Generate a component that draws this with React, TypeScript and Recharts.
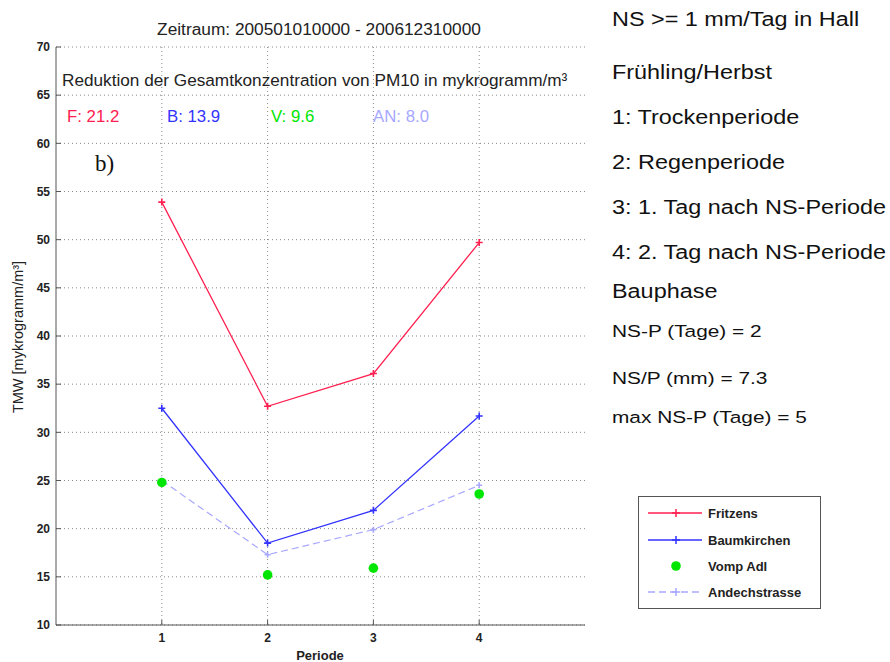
import React from 'react';
import { LineChart, Line, XAxis, YAxis, CartesianGrid } from 'recharts';

// ---- data ----
const periods = [1, 2, 3, 4];
const fritzens = [53.9, 32.7, 36.1, 49.7];
const baumkirchen = [32.5, 18.5, 21.9, 31.7];
const vompAdl = [24.8, 15.2, 15.9, 23.6];
const andechstrasse = [25.0, 17.3, 19.9, 24.5];

const seriesNames = ['Fritzens', 'Baumkirchen', 'Vomp Adl', 'Andechstrasse'];
const reductionLabels = ['F', 'B', 'V', 'AN'];
const reductionValues = [21.2, 13.9, 9.6, 8.0];

const xTicks = [1, 2, 3, 4];
const yTicks = [10, 15, 20, 25, 30, 35, 40, 45, 50, 55, 60, 65, 70];

const chartTitle = 'Zeitraum: 200501010000 - 200612310000';
const subTitle = 'Reduktion der Gesamtkonzentration von PM10 in mykrogramm/m³';
const yLabel = 'TMW [mykrogramm/m³]';
const xLabel = 'Periode';
const panelTag = 'b)';
const infoLines = [
  'NS >= 1 mm/Tag in Hall',
  'Frühling/Herbst',
  '1: Trockenperiode',
  '2: Regenperiode',
  '3: 1. Tag nach NS-Periode',
  '4: 2. Tag nach NS-Periode',
  'Bauphase',
];
const paramLines = ['NS-P (Tage) = 2', 'NS/P (mm) = 7.3', 'max NS-P (Tage) = 5'];

// ---- styles ----
const COLORS = ['#ff2050', '#3333ff', '#00e600', '#a8a8ff'];
const FONT = '"Liberation Sans", Arial, sans-serif';
const infoY = [20, 73, 118, 163, 208, 253, 292];
const paramY = [331, 378, 417];
const legendRowY = [513, 540, 566, 592];
const reductionX = [67, 167, 271, 373];

const data = periods.map((p, i) => ({
  p,
  fritzens: fritzens[i],
  baumkirchen: baumkirchen[i],
  vomp: vompAdl[i],
  andech: andechstrasse[i],
}));

const plusDot = (color: string, size = 3.5) => (props: any) => {
  const { cx, cy, index } = props;
  if (cx == null || cy == null) return <g key={index} />;
  return (
    <path
      key={index}
      d={`M${cx - size},${cy}h${size * 2}M${cx},${cy - size}v${size * 2}`}
      stroke={color}
      strokeWidth={1.6}
      fill="none"
    />
  );
};

const circleDot = (color: string) => (props: any) => {
  const { cx, cy, index } = props;
  if (cx == null || cy == null) return <g key={index} />;
  return <circle key={index} cx={cx} cy={cy} r={4.8} fill={color} stroke="none" />;
};

const abs = (extra: React.CSSProperties): React.CSSProperties => ({
  position: 'absolute',
  whiteSpace: 'nowrap',
  lineHeight: 1,
  fontFamily: FONT,
  ...extra,
});

export default function App() {
  const axisColor = '#555';
  const tickStyle = { fontSize: 12, fontWeight: 'bold' as const, fill: '#222', fontFamily: FONT };
  return (
    <div style={{ position: 'absolute', left: 0, top: 0, width: 890, height: 662, background: '#fff', overflow: 'hidden' }}>
      <LineChart
        width={890}
        height={662}
        data={data}
        margin={{ top: 47, right: 305, bottom: 17, left: 26 }}
      >
        <CartesianGrid
          stroke="#8a8a8a"
          strokeDasharray="1 3"
          verticalValues={xTicks}
          horizontalValues={yTicks}
        />
        <XAxis
          dataKey="p"
          type="number"
          domain={[0, 5]}
          ticks={xTicks}
          allowDataOverflow
          height={20}
          stroke={axisColor}
          tickSize={-5}
          tickMargin={13}
          tick={tickStyle}
        />
        <XAxis
          xAxisId="top"
          orientation="top"
          dataKey="p"
          type="number"
          domain={[0, 5]}
          ticks={xTicks}
          height={0}
          stroke={axisColor}
          tickSize={-5}
          tick={false}
        />
        <YAxis
          type="number"
          domain={[10, 70]}
          ticks={yTicks}
          allowDataOverflow
          width={30}
          stroke={axisColor}
          tickSize={-5}
          tickMargin={11}
          tick={tickStyle}
          interval={0}
        />
        <YAxis
          yAxisId="right"
          orientation="right"
          type="number"
          domain={[10, 70]}
          ticks={yTicks}
          width={0}
          stroke={axisColor}
          tickSize={-5}
          tick={false}
          interval={0}
        />
        <Line
          dataKey="andech"
          name={seriesNames[3]}
          stroke={COLORS[3]}
          strokeWidth={1.2}
          strokeDasharray="7 4"
          dot={plusDot(COLORS[3], 3)}
          isAnimationActive={false}
        />
        <Line
          dataKey="vomp"
          name={seriesNames[2]}
          stroke="none"
          dot={circleDot(COLORS[2])}
          isAnimationActive={false}
        />
        <Line
          dataKey="baumkirchen"
          name={seriesNames[1]}
          stroke={COLORS[1]}
          strokeWidth={1.3}
          dot={plusDot(COLORS[1])}
          isAnimationActive={false}
        />
        <Line
          dataKey="fritzens"
          name={seriesNames[0]}
          stroke={COLORS[0]}
          strokeWidth={1.3}
          dot={plusDot(COLORS[0])}
          isAnimationActive={false}
        />
      </LineChart>

      {/* title */}
      <div style={abs({ left: 319, top: 30, transform: 'translate(-50%,-50%)', fontSize: 17.3, color: '#222' })}>{chartTitle}</div>
      {/* sub title inside plot */}
      <div style={abs({ left: 62, top: 81, transform: 'translateY(-50%)', fontSize: 17.2, color: '#222' })}>{subTitle}</div>
      {reductionLabels.map((l, i) => (
        <div
          key={l}
          style={abs({ left: reductionX[i], top: 117, transform: 'translateY(-50%)', fontSize: 16.8, color: COLORS[i] })}
        >
          {`${l}: ${reductionValues[i].toFixed(1)}`}
        </div>
      ))}
      <div style={abs({ left: 95, top: 163, transform: 'translateY(-50%)', fontSize: 23, fontFamily: '"Liberation Serif", "DejaVu Serif", serif', color: '#111' })}>
        {panelTag}
      </div>

      {/* axis labels */}
      <div style={abs({ left: 18, top: 337, transform: 'translate(-50%,-50%) rotate(-90deg)', fontSize: 14.5, color: '#222' })}>{yLabel}</div>
      <div style={abs({ left: 320, top: 655, transform: 'translate(-50%,-50%)', fontSize: 13, fontWeight: 'bold', color: '#222' })}>{xLabel}</div>

      {/* right text */}
      {infoLines.map((t, i) => (
        <div
          key={t}
          style={abs({ left: 612, top: infoY[i], transform: 'translateY(-50%) scaleX(1.2)', transformOrigin: 'left center', fontSize: 19.5, color: '#111' })}
        >
          {t}
        </div>
      ))}
      {paramLines.map((t, i) => (
        <div
          key={t}
          style={abs({ left: 612, top: paramY[i], transform: 'translateY(-50%) scaleX(1.28)', transformOrigin: 'left center', fontSize: 16.3, color: '#111' })}
        >
          {t}
        </div>
      ))}

      {/* legend */}
      <div style={{ position: 'absolute', left: 638, top: 496, width: 181, height: 111, border: '1px solid #555', background: '#fff' }} />
      {seriesNames.map((n, i) => (
        <React.Fragment key={n}>
          <svg style={{ position: 'absolute', left: 646, top: legendRowY[i] - 8, overflow: 'visible' }} width={58} height={16}>
            {i !== 2 && (
              <line x1={2} x2={56} y1={8} y2={8} stroke={COLORS[i]} strokeWidth={1.3} strokeDasharray={i === 3 ? '7 4' : undefined} />
            )}
            {i === 2 ? (
              <circle cx={30} cy={8} r={4.8} fill={COLORS[2]} />
            ) : (
              <path d={`M26,8h8M30,4v8`} stroke={COLORS[i]} strokeWidth={1.5} />
            )}
          </svg>
          <div style={abs({ left: 708, top: legendRowY[i], transform: 'translateY(-50%)', fontSize: 13, fontWeight: 'bold', color: '#222' })}>{n}</div>
        </React.Fragment>
      ))}
    </div>
  );
}
